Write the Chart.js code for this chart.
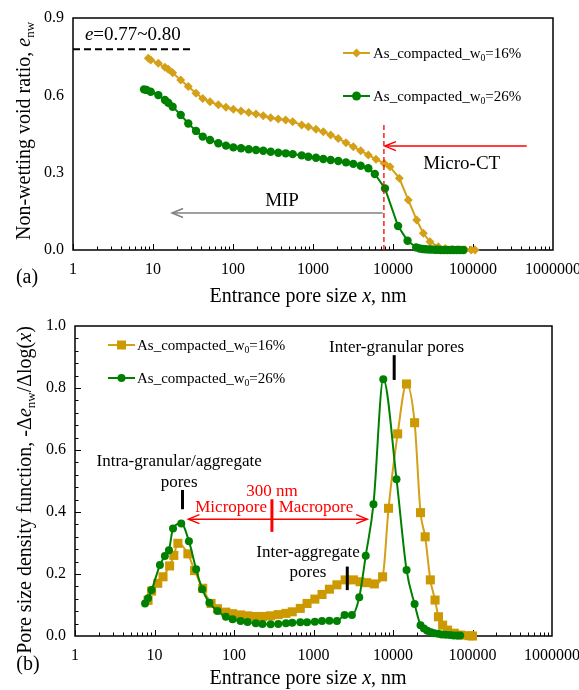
<!DOCTYPE html>
<html>
<head>
<meta charset="utf-8">
<script src="https://cdn.jsdelivr.net/npm/chart.js@4.4.1/dist/chart.umd.min.js"></script>
<style>
  body { margin: 0; background: #fff; }
  #wrap { position: relative; width: 579px; height: 690px; overflow: hidden; }
  canvas { position: absolute; left: 0; }
  #chartA { top: 0; }
  #chartB { top: 310px; }
</style>
</head>
<body>
<div id="wrap">
  <canvas id="chartA" width="579" height="310"></canvas>
  <canvas id="chartB" width="579" height="380"></canvas>
</div>
<script>
// (a) cumulative non-wetting void ratio vs entrance pore size (nm)
const poreSizeA16 = [8.74, 9.36, 11.65, 14.1, 15.5, 17.6, 22.2, 27.6, 34.5, 41.8, 51.6, 65.5, 81.7, 101, 126, 157, 194, 239, 296, 368,
  456, 557, 722, 874, 1090, 1345, 1664, 2070, 2585, 3190, 3946, 4910, 6130, 7785, 9175, 11990, 15530, 19780, 23930, 29000,
  36830, 45000, 55000, 65000, 80000, 95000, 106000];
const voidRatioA16 = [0.744, 0.737, 0.724, 0.709, 0.701, 0.688, 0.659, 0.634, 0.608, 0.588, 0.575, 0.563, 0.554, 0.546, 0.539, 0.533, 0.528, 0.521, 0.513, 0.508,
  0.504, 0.498, 0.485, 0.478, 0.468, 0.459, 0.446, 0.433, 0.416, 0.401, 0.385, 0.369, 0.352, 0.336, 0.323, 0.278, 0.194, 0.116, 0.065, 0.032,
  0.013, 0.006, 0.003, 0.002, 0.001, 0, 0];
const poreSizeA26 = [7.72, 8.3, 9.36, 11.65, 14.1, 15.5, 17.6, 22.2, 27.6, 34.5, 41.8, 51.6, 65.5, 81.7, 101, 126, 157, 194, 239, 296,
  368, 456, 557, 722, 874, 1090, 1345, 1664, 2070, 2585, 3190, 3946, 4910, 5925, 7940, 11560, 15210, 19500, 21500, 23500,
  25500, 28000, 30500, 33500, 36500, 40000, 44000, 48000, 52500, 57500, 63000, 69000, 75700];
const voidRatioA26 = [0.623, 0.621, 0.614, 0.601, 0.582, 0.571, 0.556, 0.524, 0.491, 0.462, 0.440, 0.427, 0.414, 0.405, 0.398, 0.395, 0.391, 0.388, 0.385, 0.381,
  0.377, 0.375, 0.372, 0.367, 0.362, 0.358, 0.353, 0.349, 0.345, 0.340, 0.334, 0.327, 0.317, 0.295, 0.239, 0.093, 0.036, 0.010, 0.006, 0.004,
  0.003, 0.002, 0.002, 0.001, 0.001, 0, 0, 0, 0, 0, 0, 0, 0];

// (b) pore size density function
const poreSizeB16 = [8.3, 9.2, 11.0, 12.8, 15.5, 17.5, 19.7, 26.3, 31.9, 40.4, 51.5, 62, 79, 96, 121, 148, 188, 228, 289, 360,
  450, 540, 682, 830, 1040, 1280, 1585, 1970, 2500, 3180, 3850, 4660, 5830, 7400, 8790, 11440, 14800, 18700, 22200, 25400,
  29500, 33800, 37300, 42100, 48600, 59000, 71000, 91000, 100000];
const psdB16 = [0.115, 0.145, 0.17, 0.191, 0.226, 0.26, 0.299, 0.265, 0.211, 0.154, 0.105, 0.088, 0.077, 0.072, 0.068, 0.065, 0.063, 0.063, 0.065, 0.069,
  0.073, 0.078, 0.089, 0.105, 0.119, 0.134, 0.151, 0.165, 0.181, 0.181, 0.175, 0.172, 0.168, 0.191, 0.412, 0.652, 0.813, 0.688, 0.398, 0.320,
  0.181, 0.116, 0.062, 0.035, 0.019, 0.009, 0.003, 0.001, 0];
const poreSizeB26 = [7.6, 8.3, 9.2, 11.7, 13.5, 15.2, 17.1, 21.7, 27.1, 33.4, 39.8, 49, 62, 79, 96, 121, 148, 188, 228, 289,
  360, 450, 540, 682, 830, 1040, 1280, 1585, 1970, 2460, 3040, 3760, 4540, 5680, 7550, 11070, 14800, 18700, 22200, 24500,
  27000, 30000, 33000, 37000, 41000, 46000, 52000, 58000, 64000, 70000];
const psdB26 = [0.105, 0.122, 0.148, 0.229, 0.258, 0.277, 0.347, 0.363, 0.306, 0.215, 0.151, 0.107, 0.081, 0.062, 0.054, 0.048, 0.045, 0.041, 0.039, 0.038,
  0.039, 0.041, 0.043, 0.044, 0.044, 0.046, 0.048, 0.049, 0.048, 0.068, 0.068, 0.125, 0.259, 0.425, 0.828, 0.506, 0.213, 0.103, 0.035, 0.024,
  0.017, 0.012, 0.009, 0.007, 0.005, 0.004, 0.003, 0.002, 0.002, 0.002];

const seriesLabels = ["As_compacted_w0=16%", "As_compacted_w0=26%"];
const xTickValues = [1, 10, 100, 1000, 10000, 100000, 1000000];
const yTicksA = [0, 0.3, 0.6, 0.9];
const yTicksB = [0, 0.2, 0.4, 0.6, 0.8, 1.0];

// reference lines in panel (a)
const eRangeY = 0.779, eRangeEndX = 31.6;
const microCtLimit = 7700, microCtTop = 0.497;

const FONT = '"Liberation Serif", "Times New Roman", serif';
const GOLD = "#D4A017";
const GOLD_MARK = "#CC9900";
const GREEN = "#008000";
const RED = "#FF0000";

function toPoints(xs, ys) {
  return xs.map((x, i) => ({ x: x, y: ys[i] }));
}

function logAxis(height) {
  return {
    type: "logarithmic",
    min: 1,
    max: 1000000,
    grid: { display: false, drawTicks: false },
    border: { display: false },
    afterBuildTicks: s => { s.ticks = xTickValues.map(v => ({ value: v })); },
    afterFit: s => { s.height = height; s.paddingLeft = 0; s.paddingRight = 0; },
    ticks: {
      autoSkip: false, maxRotation: 0, padding: 10, color: "#000",
      font: { family: FONT, size: 16 },
      callback: v => String(v)
    }
  };
}

function linAxis(width, max, tickArr) {
  return {
    type: "linear",
    min: 0,
    max: max,
    grid: { display: false, drawTicks: false },
    border: { display: false },
    afterBuildTicks: s => { s.ticks = tickArr.map(v => ({ value: v })); },
    afterFit: s => { s.width = width; s.paddingTop = 0; s.paddingBottom = 0; },
    ticks: {
      padding: 9, color: "#000",
      font: { family: FONT, size: 16 },
      callback: v => v.toFixed(1)
    }
  };
}

// text with italic / subscript pieces, y is the visual middle
function drawRich(ctx, parts, x, y, size, align, color) {
  let total = 0;
  const items = parts.map(p => {
    const s = p[1] === "sub" ? size * 0.65 : size;
    const f = (p[1] === "i" ? "italic " : "") + s + "px " + FONT;
    ctx.font = f;
    const w = ctx.measureText(p[0]).width;
    total += w;
    return { t: p[0], f: f, w: w, dy: p[1] === "sub" ? size * 0.22 : 0 };
  });
  let cx = x;
  if (align === "center") cx = x - total / 2;
  if (align === "right") cx = x - total;
  ctx.fillStyle = color || "#000";
  ctx.textAlign = "left";
  ctx.textBaseline = "alphabetic";
  items.forEach(it => {
    ctx.font = it.f;
    ctx.fillText(it.t, cx, y + size * 0.33 + it.dy);
    cx += it.w;
  });
}

function labelParts(label) {
  const k = label.indexOf("w0");
  return [[label.slice(0, k + 1), ""], ["0", "sub"], [label.slice(k + 2), ""]];
}

function arrowHead(ctx, x, y, dir) {
  ctx.beginPath();
  ctx.moveTo(x + dir * 11, y - 4.5);
  ctx.lineTo(x, y);
  ctx.lineTo(x + dir * 11, y + 4.5);
  ctx.stroke();
}

function hArrow(ctx, x1, x2, y, color, both) {
  ctx.strokeStyle = color;
  ctx.lineWidth = 1.5;
  ctx.beginPath();
  ctx.moveTo(x1, y);
  ctx.lineTo(x2, y);
  ctx.stroke();
  arrowHead(ctx, x2, y, x2 < x1 ? 1 : -1);
  if (both) arrowHead(ctx, x1, y, x1 < x2 ? 1 : -1);
}

function vBar(ctx, x, y1, y2, color) {
  ctx.strokeStyle = color;
  ctx.lineWidth = 3;
  ctx.beginPath();
  ctx.moveTo(x, y1);
  ctx.lineTo(x, y2);
  ctx.stroke();
}

function drawMarker(ctx, type, x, y, r, color) {
  ctx.fillStyle = color;
  ctx.beginPath();
  if (type === "circle") {
    ctx.arc(x, y, r, 0, Math.PI * 2);
  } else if (type === "rect") {
    ctx.rect(x - r, y - r, 2 * r, 2 * r);
  } else {
    ctx.moveTo(x, y - r); ctx.lineTo(x + r, y); ctx.lineTo(x, y + r); ctx.lineTo(x - r, y);
    ctx.closePath();
  }
  ctx.fill();
}

function drawLegend(ctx, entries, x1, x2, textX, size) {
  entries.forEach(e => {
    ctx.strokeStyle = e.line;
    ctx.lineWidth = 2;
    ctx.beginPath();
    ctx.moveTo(x1, e.y);
    ctx.lineTo(x2, e.y);
    ctx.stroke();
    drawMarker(ctx, e.mark, (x1 + x2) / 2, e.y, e.r, e.color);
    drawRich(ctx, labelParts(e.label), textX, e.y, size, "left");
  });
}

function drawFrame(chart) {
  const ctx = chart.ctx, a = chart.chartArea;
  ctx.save();
  ctx.strokeStyle = "#000";
  ctx.lineWidth = 1.5;
  ctx.strokeRect(a.left, a.top, a.right - a.left, a.bottom - a.top);
  // inward log ticks on the bottom axis
  const xs = chart.scales.x;
  ctx.lineWidth = 1;
  ctx.beginPath();
  for (let d = 1; d < 1000000; d *= 10) {
    for (let m = 1; m < 10; m++) {
      const px = Math.round(xs.getPixelForValue(m * d)) + 0.5;
      ctx.moveTo(px, a.bottom);
      ctx.lineTo(px, a.bottom - (m === 1 ? 6 : 3.5));
    }
  }
  ctx.stroke();
  ctx.restore();
}

const xTitle = [["Entrance pore size ", ""], ["x", "i"], [", nm", ""]];

// ---------- panel (a) ----------
const decorA = {
  id: "decorA",
  beforeDatasetsDraw(chart) { drawFrame(chart); },
  afterDraw(chart) {
    const ctx = chart.ctx, xs = chart.scales.x, ys = chart.scales.y;
    ctx.save();
    drawRich(ctx, [["e", "i"], ["=0.77~0.80", ""]], xs.getPixelForValue(1.41), ys.getPixelForValue(0.838), 19, "left");
    hArrow(ctx, xs.getPixelForValue(470000), xs.getPixelForValue(microCtLimit) + 1, ys.getPixelForValue(0.403), RED, false);
    drawRich(ctx, [["Micro-CT", ""]], xs.getPixelForValue(72200), ys.getPixelForValue(0.3375), 19, "center");
    hArrow(ctx, xs.getPixelForValue(7430), xs.getPixelForValue(17.3), ys.getPixelForValue(0.1435), "#808080", false);
    drawRich(ctx, [["MIP", ""]], xs.getPixelForValue(410), ys.getPixelForValue(0.194), 19, "center");

    drawLegend(ctx, [
      { y: 53, line: GOLD, color: GOLD, mark: "diamond", r: 4.5, label: seriesLabels[0] },
      { y: 96, line: GREEN, color: GREEN, mark: "circle", r: 4.5, label: seriesLabels[1] }
    ], 343, 370, 373, 15);

    ctx.save();
    ctx.translate(23, 131);
    ctx.rotate(-Math.PI / 2);
    drawRich(ctx, [["Non-wetting void ratio, ", ""], ["e", "i"], ["nw", "sub"]], 0, 0, 20, "center");
    ctx.restore();
    drawRich(ctx, xTitle, 308, 295, 20, "center");
    drawRich(ctx, [["(a)", ""]], 27, 276, 20, "center");
    ctx.restore();
  }
};

new Chart(document.getElementById("chartA"), {
  type: "scatter",
  data: {
    datasets: [
      {
        label: seriesLabels[0], data: toPoints(poreSizeA16, voidRatioA16), order: 2,
        showLine: true, borderColor: GOLD, borderWidth: 2, tension: 0,
        pointStyle: "rectRot", pointRadius: 4.5, pointBackgroundColor: GOLD, pointBorderColor: GOLD, pointBorderWidth: 0, clip: false
      },
      {
        label: seriesLabels[1], data: toPoints(poreSizeA26, voidRatioA26), order: 1,
        showLine: true, borderColor: GREEN, borderWidth: 2, tension: 0,
        pointStyle: "circle", pointRadius: 4.2, pointBackgroundColor: GREEN, pointBorderColor: GREEN, pointBorderWidth: 0, clip: false
      },
      {
        label: "e range", data: [{ x: 1, y: eRangeY }, { x: eRangeEndX, y: eRangeY }], order: 3,
        showLine: true, borderColor: "#000", borderWidth: 2, borderDash: [7, 4], pointRadius: 0
      },
      {
        label: "Micro-CT limit", data: [{ x: microCtLimit, y: 0 }, { x: microCtLimit, y: microCtTop }], order: 0,
        showLine: true, borderColor: RED, borderWidth: 1.3, borderDash: [5, 3], pointRadius: 0
      }
    ]
  },
  options: {
    responsive: false,
    animation: false,
    events: [],
    layout: { padding: { left: 0, top: 18, right: 26, bottom: 0 } },
    plugins: { legend: { display: false }, tooltip: { enabled: false } },
    scales: { x: logAxis(60), y: linAxis(73, 0.9, yTicksA) }
  },
  plugins: [decorA]
});

// ---------- panel (b) ----------
const decorB = {
  id: "decorB",
  beforeDatasetsDraw(chart) {
    drawFrame(chart);
    const ctx = chart.ctx, a = chart.chartArea, ys = chart.scales.y;
    ctx.save();
    ctx.strokeStyle = "#000";
    ctx.lineWidth = 1;
    ctx.beginPath();
    for (let i = 1; i < 25; i++) {
      const py = Math.round(ys.getPixelForValue(i * 0.04)) + 0.5;
      ctx.moveTo(a.left, py);
      ctx.lineTo(a.left + (i % 5 === 0 ? 6 : 3.5), py);
    }
    ctx.stroke();
    ctx.restore();
  },
  afterDraw(chart) {
    const ctx = chart.ctx, xs = chart.scales.x, ys = chart.scales.y;
    const X = v => xs.getPixelForValue(v), Y = v => ys.getPixelForValue(v);
    ctx.save();
    drawRich(ctx, [["Inter-granular pores", ""]], X(11100), Y(0.934), 17, "center");
    vBar(ctx, X(10350), Y(0.906), Y(0.826), "#000");
    drawRich(ctx, [["Intra-granular/aggregate", ""]], X(20.4), Y(0.565), 17, "center");
    drawRich(ctx, [["pores", ""]], X(20.4), Y(0.498), 17, "center");
    vBar(ctx, X(22.5), Y(0.471), Y(0.409), "#000");
    drawRich(ctx, [["300 nm", ""]], X(300), Y(0.471), 17, "center", RED);
    vBar(ctx, X(300), Y(0.441), Y(0.336), RED);
    drawRich(ctx, [["Micropore", ""]], X(92), Y(0.417), 17, "center", RED);
    drawRich(ctx, [["Macropore", ""]], X(1075), Y(0.417), 17, "center", RED);
    hArrow(ctx, X(26.7), X(4740), Y(0.377), RED, true);
    drawRich(ctx, [["Inter-aggregate", ""]], X(853), Y(0.274), 17, "center");
    drawRich(ctx, [["pores", ""]], X(853), Y(0.207), 17, "center");
    vBar(ctx, X(2660), Y(0.224), Y(0.148), "#000");

    drawLegend(ctx, [
      { y: 35, line: GOLD, color: GOLD_MARK, mark: "rect", r: 4.5, label: seriesLabels[0] },
      { y: 68, line: GREEN, color: GREEN, mark: "circle", r: 4, label: seriesLabels[1] }
    ], 108, 135, 137, 15);

    ctx.save();
    ctx.translate(24, 180);
    ctx.rotate(-Math.PI / 2);
    drawRich(ctx, [["Pore size density function, -\u0394", ""], ["e", "i"], ["nw", "sub"], ["/\u0394log(", ""], ["x", "i"], [")", ""]], 0, 0, 20, "center");
    ctx.restore();
    drawRich(ctx, xTitle, 308, 367, 20, "center");
    drawRich(ctx, [["(b)", ""]], 28, 353, 20, "center");
    ctx.restore();
  }
};

new Chart(document.getElementById("chartB"), {
  type: "scatter",
  data: {
    datasets: [
      {
        label: seriesLabels[0], data: toPoints(poreSizeB16, psdB16), order: 2,
        showLine: true, borderColor: GOLD, borderWidth: 2, tension: 0.4, cubicInterpolationMode: "monotone",
        pointStyle: "rect", pointRadius: 6.4, pointBackgroundColor: GOLD_MARK, pointBorderColor: GOLD_MARK, pointBorderWidth: 0, clip: false
      },
      {
        label: seriesLabels[1], data: toPoints(poreSizeB26, psdB26), order: 1,
        showLine: true, borderColor: GREEN, borderWidth: 2, tension: 0.4, cubicInterpolationMode: "monotone",
        pointStyle: "circle", pointRadius: 4, pointBackgroundColor: GREEN, pointBorderColor: GREEN, pointBorderWidth: 0, clip: false
      }
    ]
  },
  options: {
    responsive: false,
    animation: false,
    events: [],
    layout: { padding: { left: 0, top: 16, right: 27, bottom: 0 } },
    plugins: { legend: { display: false }, tooltip: { enabled: false } },
    scales: { x: logAxis(54), y: linAxis(75, 1.0, yTicksB) }
  },
  plugins: [decorB]
});
</script>
</body>
</html>
